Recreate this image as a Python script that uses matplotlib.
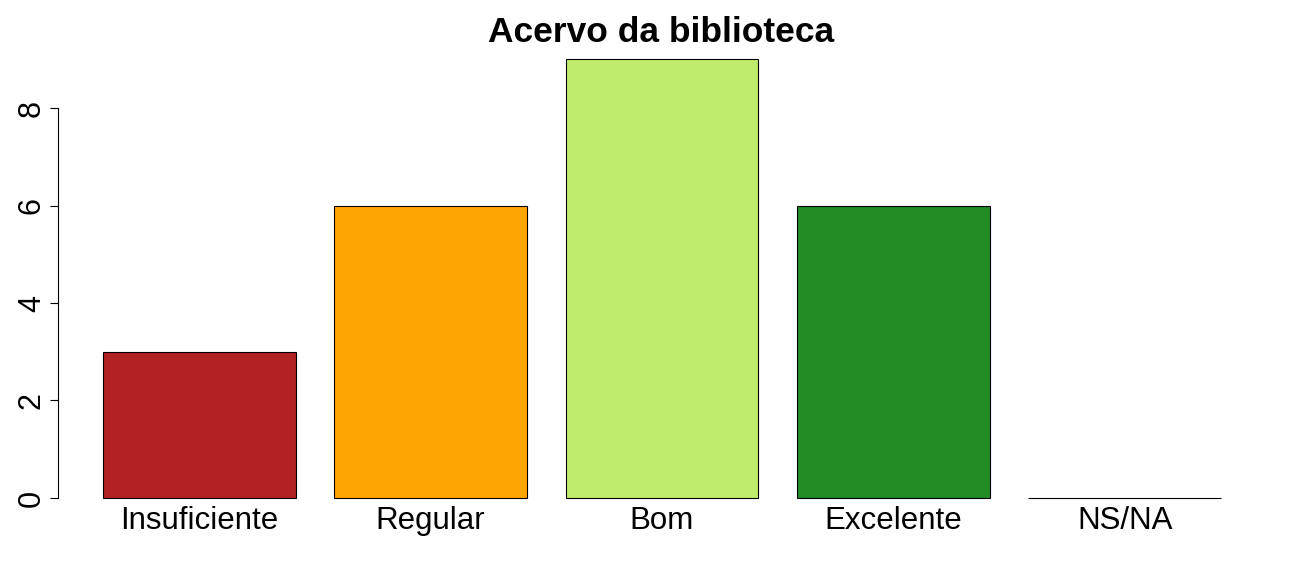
import matplotlib
matplotlib.use("Agg")
import matplotlib.pyplot as plt

categories = ["Insuficiente", "Regular", "Bom", "Excelente", "NS/NA"]
counts = [3, 6, 9, 6, 0]
colors = ["#B22222", "#FFA500", "#C0EC6C", "#228B22", "#FFFFFF"]
yticks = [0, 2, 4, 6, 8]

plt.rcParams["font.family"] = ["Liberation Sans", "DejaVu Sans"]

fig = plt.figure(figsize=(12.96, 5.76), dpi=100)
ax = fig.add_axes([0.0448, 0.105, 0.932, 0.8225])

# R barplot style: width 1, space 0.2
xpos = [0.2 + 1.2 * i + 0.5 for i in range(len(categories))]
ax.bar(xpos, counts, width=1.0, color=colors, edgecolor="black", linewidth=0.8)

ax.set_xlim(-0.032, 6.232)
ax.set_ylim(-0.36, 9.36)

for s in ["top", "right", "bottom"]:
    ax.spines[s].set_visible(False)
ax.spines["left"].set_bounds(0, 8)
ax.spines["left"].set_linewidth(0.8)

ax.set_yticks(yticks)
ax.set_yticklabels([str(t) for t in yticks], rotation=90, va="center", fontsize=22)
ax.tick_params(axis="y", length=6, width=0.8, pad=2)

ax.set_xticks(xpos)
ax.set_xticklabels(categories, fontsize=22.5)
ax.tick_params(axis="x", length=0, pad=-7)

fig.text(0.51, 0.944, "Acervo da biblioteca", fontsize=25.5, fontweight="bold",
         ha="center", va="center")

fig.savefig("out.png", dpi=100)
